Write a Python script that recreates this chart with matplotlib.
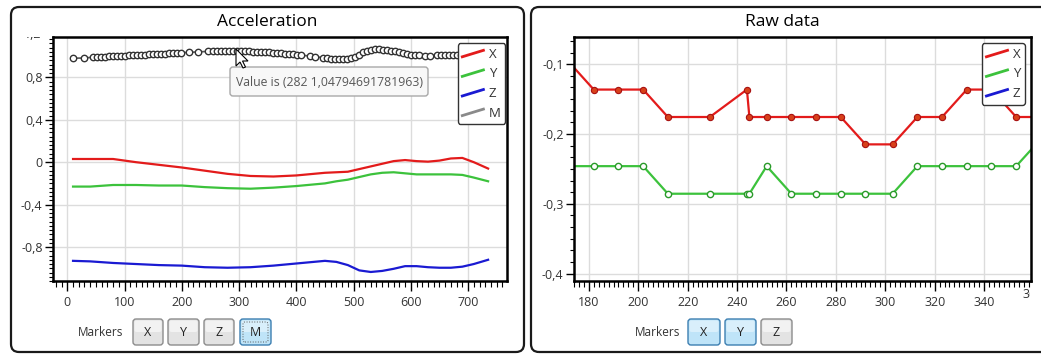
import matplotlib.pyplot as plt
from matplotlib.patches import FancyBboxPatch, Polygon
from matplotlib.lines import Line2D
from matplotlib.legend_handler import HandlerBase
from matplotlib.ticker import MultipleLocator, FuncFormatter
from matplotlib.transforms import Bbox, TransformedBbox

plt.rcParams['font.family'] = ['Open Sans', 'DejaVu Sans']

# --- Acceleration panel data ---
acc_x = [10, 40, 80, 120, 160, 200, 240, 280, 320, 360, 400, 430, 450, 470,
         490, 510, 530, 550, 570, 590, 610, 630, 650, 670, 690, 710, 735]
acc_X = [0.03, 0.03, 0.03, 0.0, -0.025, -0.05, -0.08, -0.11, -0.13, -0.135,
         -0.125, -0.11, -0.1, -0.095, -0.09, -0.065, -0.04, -0.015, 0.01, 0.02,
         0.01, 0.005, 0.015, 0.035, 0.04, 0.0, -0.06]
acc_Y = [-0.23, -0.23, -0.215, -0.215, -0.22, -0.22, -0.235, -0.245, -0.25,
         -0.24, -0.225, -0.21, -0.2, -0.18, -0.165, -0.14, -0.115, -0.1, -0.095,
         -0.105, -0.115, -0.115, -0.115, -0.115, -0.12, -0.145, -0.18]
acc_Z = [-0.93, -0.935, -0.95, -0.96, -0.97, -0.975, -0.99, -0.995, -0.99,
         -0.975, -0.955, -0.94, -0.93, -0.94, -0.97, -1.02, -1.035, -1.025,
         -1.005, -0.98, -0.98, -0.99, -0.995, -0.995, -0.985, -0.96, -0.92]

mag_x = [10, 30, 45, 52, 59, 66, 73, 80, 87, 94, 101, 108, 115, 122, 129, 136,
         143, 150, 157, 164, 171, 178, 185, 192, 199, 212, 229, 245, 254, 261,
         268, 275, 282, 289, 296, 303, 310, 317, 324, 331, 338, 345, 352, 359,
         366, 373, 380, 387, 394, 401, 408, 424, 432, 447, 454, 461, 468, 475,
         482, 489, 496, 503, 510, 517, 524, 531, 538, 545, 552, 559, 566, 573,
         580, 587, 594, 601, 608, 615, 625, 633, 645, 652, 659, 666, 673, 680,
         687, 694, 701, 708, 715, 722, 729, 735]
mag_v = [0.98, 0.982, 0.99, 0.992, 0.994, 0.995, 0.997, 0.999, 1.0, 1.002,
         1.004, 1.006, 1.008, 1.01, 1.012, 1.014, 1.016, 1.018, 1.02, 1.022,
         1.024, 1.026, 1.028, 1.03, 1.032, 1.035, 1.04, 1.044, 1.046, 1.047,
         1.048, 1.048, 1.048, 1.048, 1.047, 1.046, 1.045, 1.044, 1.042, 1.04,
         1.038, 1.036, 1.034, 1.031, 1.028, 1.025, 1.022, 1.019, 1.016, 1.013,
         1.01, 1.0, 0.995, 0.985, 0.98, 0.975, 0.97, 0.968, 0.968, 0.972, 0.98,
         0.995, 1.015, 1.035, 1.05, 1.06, 1.065, 1.065, 1.062, 1.058, 1.052,
         1.045, 1.038, 1.03, 1.022, 1.015, 1.01, 1.006, 1.004, 1.004, 1.006,
         1.008, 1.01, 1.012, 1.013, 1.014, 1.015, 1.015, 1.015, 1.015, 1.016,
         1.016, 1.016, 1.016]

# --- Raw data panel data ---
raw_x = [172, 182, 192, 202, 212, 229, 244, 245, 252, 262, 272, 282, 292,
         303, 313, 323, 333, 343, 353, 363]
raw_X = [-0.0971, -0.1363, -0.1363, -0.1363, -0.1756, -0.1756, -0.1363,
         -0.1756, -0.1756, -0.1756, -0.1756, -0.1756, -0.2148, -0.2148,
         -0.1756, -0.1756, -0.1363, -0.1363, -0.1756, -0.1756]
raw_Y = [-0.246, -0.246, -0.246, -0.246, -0.2855, -0.2855, -0.2855, -0.2855,
         -0.246, -0.2855, -0.2855, -0.2855, -0.2855, -0.2855, -0.246, -0.246,
         -0.246, -0.246, -0.246, -0.207]

RED = '#e31b1b'
GREEN = '#3cc23c'
BLUE = '#1a1ad2'
GRAY = '#8a8a8a'

W, H = 1041, 354
fig = plt.figure(figsize=(W / 100, H / 100), dpi=100)
fig.patch.set_facecolor('white')


def box(x0, y0, x1, y1, r, **kw):
    # rounded box in image pixel coords (y down)
    p = FancyBboxPatch((x0 / 100, (H - y1) / 100), (x1 - x0) / 100, (y1 - y0) / 100,
                       boxstyle='round,pad=0,rounding_size=%g' % r,
                       transform=fig.dpi_scale_trans, **kw)
    fig.add_artist(p)
    return p


def ftext(x, y, s, **kw):
    return fig.text(x / W, 1 - y / H, s, **kw)


def comma(v, pos):
    s = '%g' % round(v, 6)
    if s == '-0':
        s = '0'
    return s.replace('.', ',')


class SlantHandler(HandlerBase):
    def create_artists(self, legend, orig, xd, yd, width, height, fontsize, trans):
        ln = Line2D([-xd, -xd + width], [-yd + 0.1 * height, -yd + 0.8 * height],
                    color=orig.get_color(), lw=2, transform=trans)
        return [ln]


def style_axes(ax):
    for s in ax.spines.values():
        s.set_linewidth(1.8)
        s.set_color('black')
    ax.grid(True, which='major', color='#dcdcdc', lw=1)
    ax.set_axisbelow(True)
    ax.tick_params(which='major', direction='out', length=7, width=1, colors='black',
                   labelcolor='#333333', labelsize=9)
    ax.tick_params(which='minor', direction='out', length=4, width=0.8, colors='black')
    ax.tick_params(axis='y', which='major', length=6, pad=1.5)
    ax.tick_params(axis='y', which='minor', length=3)
    ax.tick_params(axis='x', pad=4)
    ax.xaxis.set_major_formatter(FuncFormatter(comma))
    ax.yaxis.set_major_formatter(FuncFormatter(comma))


def add_legend(ax, names, colors, anchor):
    handles = [Line2D([], [], color=c) for c in colors]
    leg = ax.legend(handles, names, loc='upper right', bbox_to_anchor=anchor,
                    borderaxespad=0, fontsize=9.5, handlelength=1.6, handletextpad=0.4,
                    labelspacing=0.5, borderpad=0.35, framealpha=1, fancybox=True,
                    edgecolor='#333333', handler_map={Line2D: SlantHandler()})
    leg.get_frame().set_linewidth(1.0)
    for t in leg.get_texts():
        t.set_color('#333333')
    leg.set_zorder(10)


def add_buttons(label_x, buttons, y0=319, y1=345):
    ftext(label_x, 332, 'Markers', ha='center', va='center', fontsize=8.5, color='#333333')
    for x0, x1, name, on in buttons:
        if on:
            box(x0, y0, x1, y1, 0.03, facecolor='#bfe4f8', edgecolor='#3c7fb1', lw=1.0)
            box(x0 + 1.5, y0 + 1.5, x1 - 1.5, (y0 + y1) / 2, 0.02, facecolor='#d9effb',
                edgecolor='none')
        else:
            box(x0, y0, x1, y1, 0.03, facecolor='#e3e3e3', edgecolor='#8c8c8c', lw=1.0)
            box(x0 + 1.5, y0 + 1.5, x1 - 1.5, (y0 + y1) / 2, 0.02, facecolor='#f2f2f2',
                edgecolor='none')
        ftext((x0 + x1) / 2, (y0 + y1) / 2 + 1, name, ha='center', va='center',
              fontsize=9, color='#222222')


# panel frames
box(11, 7, 524, 352, 0.08, facecolor='none', edgecolor='#1a1a1a', lw=1.6)
box(531, 7, 1060, 352, 0.08, facecolor='none', edgecolor='#1a1a1a', lw=1.6)

# ---------------- Acceleration ----------------
ax1 = fig.add_axes([53 / W, 1 - 281 / H, 454 / W, 244 / H])
ax1.plot(acc_x, acc_X, color=RED, lw=1.6)
ax1.plot(acc_x, acc_Y, color=GREEN, lw=1.6)
ax1.plot(acc_x, acc_Z, color=BLUE, lw=1.6)
ax1.plot(mag_x, mag_v, color='#555555', lw=1.2, marker='o', ms=4.6,
         mfc='white', mec='#333333', mew=1.0)
ax1.set_xlim(-25, 768)
ax1.set_ylim(-1.12, 1.18)
ax1.xaxis.set_major_locator(MultipleLocator(100))
ax1.xaxis.set_minor_locator(MultipleLocator(10))
ax1.yaxis.set_major_locator(MultipleLocator(0.4))
ax1.yaxis.set_minor_locator(MultipleLocator(0.04))
style_axes(ax1)
add_legend(ax1, ['X', 'Y', 'Z', 'M'], [RED, GREEN, BLUE, GRAY], (0.996, 0.975))
ftext(267, 22, 'Acceleration', ha='center', va='center', fontsize=12.5, color='black')

# clipped top label
t = ax1.text(-0.025, 1.2, '1,2', transform=ax1.get_yaxis_transform(), ha='right',
             va='center', fontsize=9, color='#333333', clip_on=True)
t.set_clip_box(TransformedBbox(Bbox([[0, 0], [W / 100, (H - 37) / 100]]),
                               fig.dpi_scale_trans))

add_buttons(101, [(133, 163, 'X', False), (168, 199, 'Y', False),
                  (204, 234, 'Z', False), (240, 271, 'M', True)])
box(243, 322, 268, 342, 0.02, facecolor='none', edgecolor='#555555', lw=0.7, ls=':')

# tooltip + cursor
box(230, 67, 428, 96, 0.03, facecolor='#f8f8f8', edgecolor='#a8a8a8', lw=1.0, zorder=20)
ftext(236, 82, 'Value is (282 1,04794691781963)', ha='left', va='center',
      fontsize=8.8, color='#575757', zorder=21)
cur = [(0, 0), (0, 17), (4, 13), (7, 19), (9.5, 18), (6.5, 12), (12, 12)]
tip_x, tip_y = 236, 49
pts = [((tip_x + a) / 100, (H - tip_y - b) / 100) for a, b in cur]
fig.add_artist(Polygon(pts, closed=True, facecolor='white', edgecolor='black',
                       lw=0.8, transform=fig.dpi_scale_trans, zorder=22))

# ---------------- Raw data ----------------
ax2 = fig.add_axes([574 / W, 1 - 281 / H, 457 / W, 244 / H])
ax2.plot(raw_x, raw_X, color=RED, lw=1.6, marker='o', ms=4.5, mfc='#d8401a',
         mec='#a81010', mew=0.8)
ax2.plot(raw_x, raw_Y, color=GREEN, lw=1.6, marker='o', ms=4.5, mfc='white',
         mec='#2a9a2a', mew=1.0)
ax2.set_xlim(174, 359)
ax2.set_ylim(-0.4105, -0.061)
ax2.xaxis.set_major_locator(MultipleLocator(20))
ax2.xaxis.set_minor_locator(MultipleLocator(2))
ax2.yaxis.set_major_locator(MultipleLocator(0.1))
ax2.yaxis.set_minor_locator(MultipleLocator(0.1 / 6))
style_axes(ax2)
add_legend(ax2, ['X', 'Y', 'Z'], [RED, GREEN, BLUE], (0.987, 0.975))
ftext(782, 22, 'Raw data', ha='center', va='center', fontsize=12.5, color='black')

# the 360 label is cut by the panel edge in the original
t2 = ax2.text(360, -0.03, '360', transform=ax2.get_xaxis_transform(), ha='center',
              va='top', fontsize=9, color='#333333', clip_on=True)
t2.set_clip_box(TransformedBbox(Bbox([[0, 0], [10.30, H / 100]]),
                                fig.dpi_scale_trans))

add_buttons(658, [(688, 720, 'X', True), (725, 756, 'Y', True),
                  (761, 792, 'Z', False)])

fig.savefig('out.png', dpi=100)
